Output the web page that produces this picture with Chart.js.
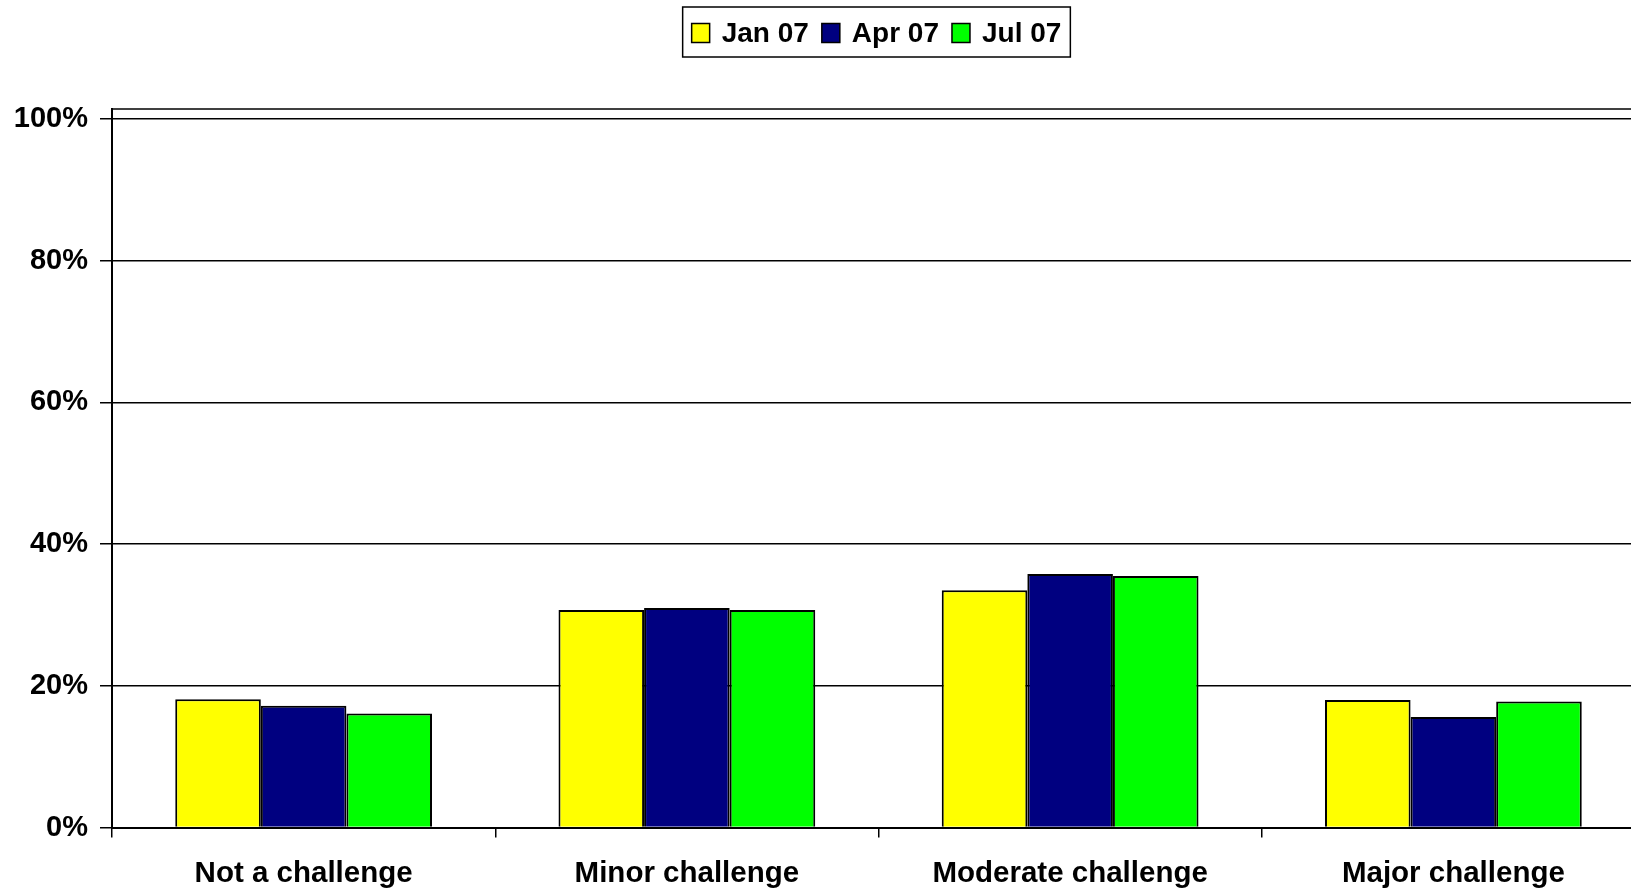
<!DOCTYPE html>
<html>
<head>
<meta charset="utf-8">
<script src="https://cdn.jsdelivr.net/npm/chart.js@4/dist/chart.umd.min.js"></script>
<style>
  html, body { margin: 0; padding: 0; background: #fff; overflow: hidden; }
  #wrap { width: 1660px; height: 911px; }
</style>
</head>
<body>
<div id="wrap"><canvas id="barChartCanvas"></canvas></div>
<script>
// Chart data
const categories = ['Not a challenge', 'Minor challenge', 'Moderate challenge', 'Major challenge'];
const seriesLabels = ['Jan 07', 'Apr 07', 'Jul 07'];
const jan07 = [18.1, 30.7, 33.5, 18.0];
const apr07 = [17.2, 31.0, 35.8, 15.6];
const jul07 = [16.1, 30.7, 35.5, 17.8];
const yTicks = [0, 20, 40, 60, 80, 100];

const FONT = '"Liberation Sans", Arial, sans-serif';

// Boxed legend drawn above the plot, centered on the plot area
const boxLegend = {
    id: 'boxLegend',
    afterDraw(chart) {
        const ctx = chart.ctx;
        const area = chart.chartArea;
        const sets = chart.data.datasets;
        const sw = 18, gap = 12, itemGap = 13, pad = 9;
        ctx.save();
        ctx.font = 'bold 28px ' + FONT;
        let total = pad * 2;
        const widths = sets.map(d => ctx.measureText(d.label).width);
        widths.forEach((w, i) => { total += sw + gap + w + (i ? itemGap : 0); });
        const cx = (area.left + area.right) / 2 - 2;
        const top = 7, h = 50;
        let x = cx - total / 2;
        ctx.fillStyle = '#fff';
        ctx.fillRect(x, top, total, h);
        ctx.strokeStyle = '#000';
        ctx.lineWidth = 1.5;
        ctx.strokeRect(x, top, total, h);
        x += pad;
        const mid = top + h / 2 + 1;
        sets.forEach((d, i) => {
            ctx.fillStyle = d.backgroundColor;
            ctx.fillRect(x, mid - 9.5, sw, 19);
            ctx.strokeRect(x, mid - 9.5, sw, 19);
            x += sw + gap;
            ctx.fillStyle = '#000';
            ctx.textBaseline = 'middle';
            ctx.fillText(d.label, x, mid + 1);
            x += widths[i] + itemGap;
        });
        // top edge of the plot area
        ctx.beginPath();
        ctx.moveTo(area.left, area.top);
        ctx.lineTo(area.right, area.top);
        ctx.lineWidth = 1.5;
        ctx.stroke();
        ctx.restore();
    }
};

document.addEventListener('DOMContentLoaded', function () {
    const ctx = document.getElementById('barChartCanvas').getContext('2d');
    const colors = ['#FFFF00', '#000080', '#00FF00'];
    const values = [jan07, apr07, jul07];

    new Chart(ctx, {
        type: 'bar',
        data: {
            labels: categories,
            datasets: seriesLabels.map((lbl, i) => ({
                label: lbl,
                data: values[i],
                backgroundColor: colors[i],
                borderColor: '#000',
                borderWidth: 2,
                barPercentage: 1,
                categoryPercentage: 0.67
            }))
        },
        options: {
            responsive: true,
            maintainAspectRatio: false,
            animation: false,
            layout: { padding: { top: 109, right: 15, left: 0, bottom: 0 } },
            plugins: {
                legend: { display: false },
                tooltip: { enabled: false }
            },
            scales: {
                x: {
                    grid: {
                        offset: true,
                        drawOnChartArea: false,
                        drawTicks: true,
                        tickLength: 10,
                        color: '#000',
                        lineWidth: 1.5
                    },
                    border: { color: '#000', width: 2 },
                    ticks: {
                        color: '#000',
                        padding: 19,
                        maxRotation: 0,
                        font: { family: FONT, size: 29.5, weight: 'bold' }
                    }
                },
                y: {
                    min: 0,
                    max: 101.4,
                    afterBuildTicks(scale) {
                        scale.ticks = yTicks.map(v => ({ value: v }));
                    },
                    afterFit(scale) { scale.width = 112; },
                    grid: {
                        color: '#000',
                        lineWidth: 1.5,
                        tickLength: 12
                    },
                    border: { color: '#000', width: 2 },
                    ticks: {
                        color: '#000',
                        padding: 12,
                        font: { family: FONT, size: 29, weight: 'bold' },
                        callback: v => v + '%'
                    }
                }
            }
        },
        plugins: [boxLegend]
    });
});
</script>
</body>
</html>
